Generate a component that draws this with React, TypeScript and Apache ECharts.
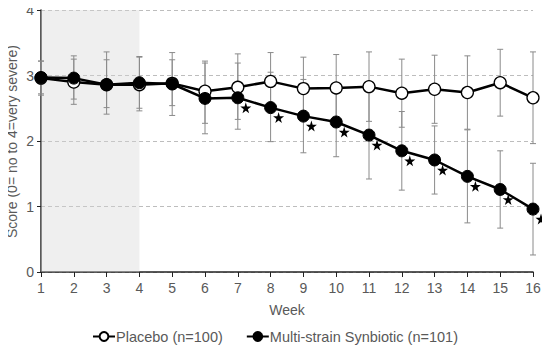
import React, { useEffect, useRef } from "react";
import * as echarts from "echarts";

const weeks = [1, 2, 3, 4, 5, 6, 7, 8, 9, 10, 11, 12, 13, 14, 15, 16];
const placebo = [2.96, 2.90, 2.86, 2.86, 2.88, 2.76, 2.82, 2.91, 2.80, 2.81, 2.83, 2.73, 2.79, 2.74, 2.89, 2.66];
const placeboLow = [2.70, 2.56, 2.41, 2.46, 2.39, 2.27, 2.33, 2.47, 2.32, 2.30, 2.30, 2.21, 2.27, 2.18, 2.38, 1.96];
const placeboHigh = [3.22, 3.25, 3.36, 3.29, 3.35, 3.22, 3.33, 3.35, 3.28, 3.32, 3.36, 3.25, 3.31, 3.30, 3.40, 3.36];
const synbiotic = [2.97, 2.96, 2.86, 2.89, 2.87, 2.65, 2.66, 2.51, 2.38, 2.29, 2.09, 1.85, 1.71, 1.46, 1.26, 0.96];
const synbioticLow = [2.72, 2.64, 2.51, 2.50, 2.54, 2.11, 2.18, 1.99, 1.82, 1.76, 1.42, 1.25, 1.19, 0.75, 0.67, 0.26];
const synbioticHigh = [3.22, 3.30, 3.24, 3.28, 3.24, 3.19, 3.19, 3.05, 2.94, 2.82, 2.76, 2.45, 2.23, 2.17, 1.85, 1.66];
const significantWeeks = [7, 8, 9, 10, 11, 12, 13, 14, 15, 16];
const yTicks = [0, 1, 2, 3, 4];
const runInStart = 1;
const runInEnd = 4;
const yTitle = "Score (0= no to 4=very severe)";

const STAR = "path://M50,0 L61,35 L98,35 L68,57 L79,91 L50,70 L21,91 L32,57 L2,35 L39,35 Z";
const FONT = "Liberation Sans, Arial, sans-serif";
const TXT = "#595959";

export default function App() {
  const ref = useRef<HTMLDivElement>(null);
  useEffect(() => {
    if (!ref.current) return;
    const chart = echarts.init(ref.current, undefined, { renderer: "svg" });
    const errData: number[][] = [];
    weeks.forEach((w, i) => {
      errData.push([w, placeboLow[i], placeboHigh[i]]);
      errData.push([w, synbioticLow[i], synbioticHigh[i]]);
    });
    const renderErr = (params: any, api: any) => {
      const x = api.value(0);
      const lo = api.coord([x, api.value(1)]);
      const hi = api.coord([x, api.value(2)]);
      const c = 3;
      const style = { stroke: "#8a8a8a", lineWidth: 1 };
      return {
        type: "group",
        children: [
          { type: "line", shape: { x1: lo[0], y1: lo[1], x2: hi[0], y2: hi[1] }, style },
          { type: "line", shape: { x1: lo[0] - c, y1: lo[1], x2: lo[0] + c, y2: lo[1] }, style },
          { type: "line", shape: { x1: hi[0] - c, y1: hi[1], x2: hi[0] + c, y2: hi[1] }, style },
        ],
      };
    };
    chart.setOption({
      animation: false,
      grid: { left: 41, right: 17, top: 10, bottom: 77, containLabel: false, outerBoundsMode: "none" },
      graphic: [
        {
          type: "text",
          x: 12,
          y: 141.5,
          rotation: Math.PI / 2,
          style: {
            text: yTitle,
            fill: TXT,
            font: `14px ${FONT}`,
            align: "center",
            verticalAlign: "middle",
            textAlign: "center",
            textVerticalAlign: "middle",
          },
        },
      ],
      xAxis: {
        type: "value",
        min: 1,
        max: 16,
        interval: 1,
        name: "Week",
        nameLocation: "middle",
        nameGap: 31,
        nameTextStyle: { color: TXT, fontSize: 14, fontFamily: FONT },
        axisLine: { show: true, lineStyle: { color: "#222", width: 1.5 } },
        axisTick: { show: true, length: 5, lineStyle: { color: "#222" } },
        axisLabel: { color: TXT, fontSize: 14, fontFamily: FONT, margin: 9 },
        splitLine: { show: false },
      },
      yAxis: {
        type: "value",
        min: yTicks[0],
        max: yTicks[yTicks.length - 1],
        interval: 1,
        axisLine: { show: true, lineStyle: { color: "#222", width: 1.5 } },
        axisTick: { show: true, length: 4, lineStyle: { color: "#222" } },
        axisLabel: { color: TXT, fontSize: 14, fontFamily: FONT, margin: 7 },
        splitLine: { show: true, lineStyle: { color: "#bdbdbd", type: [4, 3], width: 1 } },
      },
      legend: {
        bottom: 0,
        left: "center",
        itemGap: 23,
        itemWidth: 22,
        itemHeight: 11,
        data: ["Placebo (n=100)", "Multi-strain Synbiotic (n=101)"],
        textStyle: { color: TXT, fontSize: 14.5, fontFamily: FONT, padding: [0, 0, 0, -4] },
      },
      series: [
        {
          type: "custom",
          name: "err",
          renderItem: renderErr,
          data: errData,
          z: 1,
          silent: true,
        },
        {
          type: "line",
          name: "Placebo (n=100)",
          data: weeks.map((w, i) => [w, placebo[i]]),
          symbol: "circle",
          symbolSize: 12,
          lineStyle: { color: "#000", width: 2.5 },
          itemStyle: { color: "#fff", borderColor: "#000", borderWidth: 1.3 },
          z: 3,
        },
        {
          type: "line",
          name: "Multi-strain Synbiotic (n=101)",
          data: weeks.map((w, i) => [w, synbiotic[i]]),
          symbol: "circle",
          symbolSize: 12,
          lineStyle: { color: "#000", width: 2.5 },
          itemStyle: { color: "#000", borderColor: "#000", borderWidth: 1 },
          z: 4,
        },
        {
          type: "scatter",
          name: "sig",
          data: significantWeeks.map((w) => [w, synbiotic[weeks.indexOf(w)]]),
          symbol: STAR,
          symbolSize: 11,
          symbolOffset: [8, 10],
          clip: false,
          itemStyle: { color: "#000", opacity: 1 },
          z: 5,
          silent: true,
        },
        {
          type: "line",
          name: "shade",
          data: [],
          z: 10,
          silent: true,
          markArea: {
            silent: true,
            itemStyle: { color: "rgba(213,213,213,0.38)" },
            data: [[{ xAxis: runInStart, yAxis: yTicks[0] }, { xAxis: runInEnd, yAxis: yTicks[yTicks.length - 1] }]],
          },
        },
      ],
    });
    return () => chart.dispose();
  }, []);
  return <div ref={ref} style={{ width: 550, height: 349, marginLeft: -8, marginTop: -8 }} />;
}
